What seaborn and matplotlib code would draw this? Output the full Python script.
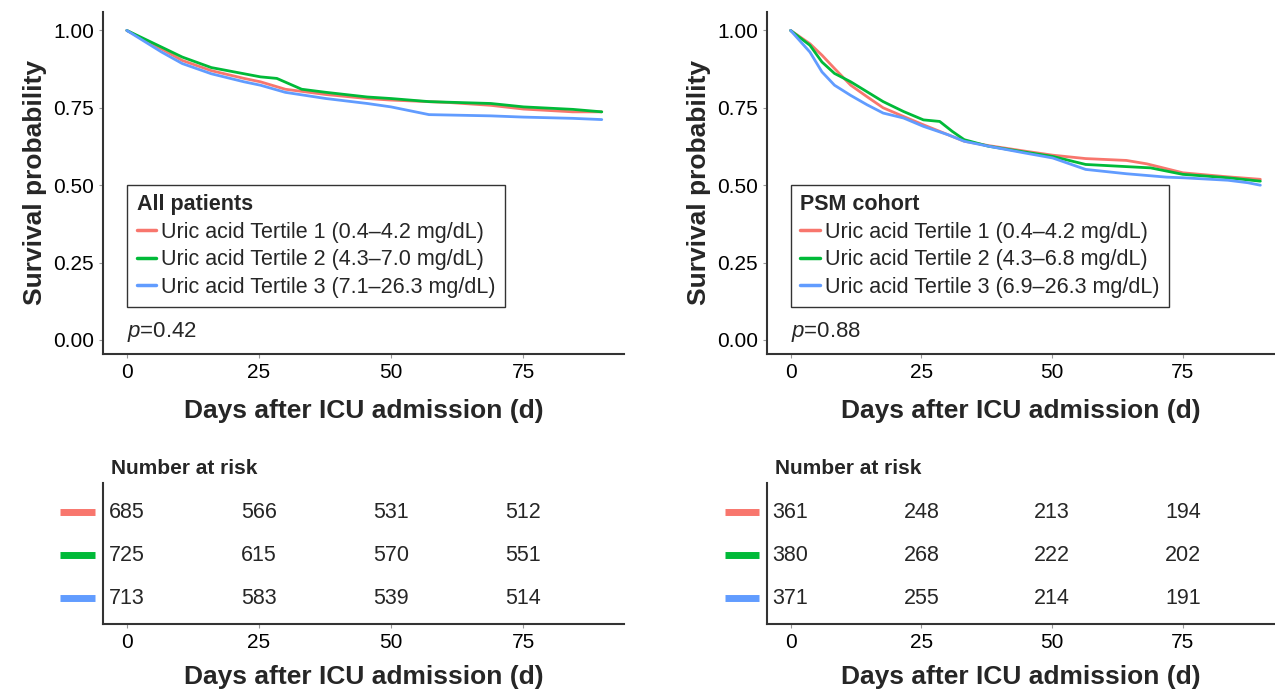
"""Kaplan-Meier survival curves by uric acid tertile, with number-at-risk tables."""

import matplotlib

matplotlib.use("Agg")
import matplotlib.pyplot as plt
import matplotlib.transforms as mtransforms
from matplotlib.lines import Line2D
import pandas as pd
import seaborn as sns

# --- data --------------------------------------------------------------------
GROUPS = ["T1", "T2", "T3"]
COLORS = ["#F8766D", "#00BA38", "#619CFF"]

# all patients
ALL_T1_DAYS = [0, 6.6, 10.5, 16.0, 22.2, 25.3, 30.0, 37.7, 45.5, 50.0, 61.1, 68.9, 75.1, 84.4, 89.9]
ALL_T1_SURV = [1.0, 0.94, 0.903, 0.87, 0.845, 0.834, 0.81, 0.793, 0.78, 0.775, 0.767, 0.758, 0.746, 0.737, 0.737]
ALL_T2_DAYS = [0, 6.6, 10.5, 16.0, 22.2, 25.3, 28.4, 33.1, 37.7, 45.5, 50.0, 57.2, 68.9, 75.1, 84.4, 89.9]
ALL_T2_SURV = [1.0, 0.946, 0.914, 0.88, 0.86, 0.85, 0.845, 0.81, 0.80, 0.785, 0.78, 0.77, 0.764, 0.753, 0.745, 0.737]
ALL_T3_DAYS = [0, 6.6, 10.5, 16.0, 22.2, 25.3, 30.0, 37.7, 45.5, 50.0, 57.2, 68.9, 75.1, 84.4, 89.9]
ALL_T3_SURV = [1.0, 0.93, 0.893, 0.86, 0.834, 0.823, 0.80, 0.78, 0.764, 0.753, 0.728, 0.724, 0.72, 0.716, 0.712]

# PSM cohort
PSM_T1_DAYS = [0, 3.7, 6.0, 8.4, 11.5, 14.6, 17.7, 21.6, 25.4, 30.1, 33.2, 37.8, 44.8, 50.1, 56.4, 64.2, 68.1, 75.0, 83.6, 89.8]
PSM_T1_SURV = [1.0, 0.957, 0.92, 0.877, 0.823, 0.786, 0.75, 0.722, 0.695, 0.663, 0.642, 0.628, 0.61, 0.597, 0.586, 0.58, 0.569, 0.54, 0.527, 0.519]
PSM_T2_DAYS = [0, 3.7, 6.0, 8.4, 11.5, 14.6, 17.7, 21.6, 25.4, 28.5, 30.9, 33.2, 37.8, 44.8, 50.1, 56.4, 64.2, 68.8, 75.0, 83.6, 89.8]
PSM_T2_SURV = [1.0, 0.952, 0.898, 0.861, 0.834, 0.802, 0.77, 0.738, 0.711, 0.706, 0.674, 0.647, 0.626, 0.607, 0.593, 0.567, 0.56, 0.556, 0.535, 0.524, 0.513]
PSM_T3_DAYS = [0, 3.7, 6.0, 8.4, 11.5, 14.6, 17.7, 21.6, 25.4, 30.1, 33.2, 37.8, 44.8, 50.1, 56.4, 64.2, 71.9, 75.0, 83.6, 87.4, 89.8]
PSM_T3_SURV = [1.0, 0.93, 0.866, 0.823, 0.79, 0.76, 0.733, 0.717, 0.69, 0.663, 0.642, 0.626, 0.604, 0.588, 0.551, 0.537, 0.526, 0.524, 0.516, 0.508, 0.50]

RISK_DAYS = [0, 25, 50, 75]
ALL_RISK = [[685, 566, 531, 512], [725, 615, 570, 551], [713, 583, 539, 514]]
PSM_RISK = [[361, 248, 213, 194], [380, 268, 222, 202], [371, 255, 214, 191]]

ALL_LABELS = [
    "Uric acid Tertile 1 (0.4–4.2 mg/dL)",
    "Uric acid Tertile 2 (4.3–7.0 mg/dL)",
    "Uric acid Tertile 3 (7.1–26.3 mg/dL)",
]
PSM_LABELS = [
    "Uric acid Tertile 1 (0.4–4.2 mg/dL)",
    "Uric acid Tertile 2 (4.3–6.8 mg/dL)",
    "Uric acid Tertile 3 (6.9–26.3 mg/dL)",
]

XLABEL = "Days after ICU admission (d)"


def uzun_tablo(gunler, olasiliklar):
    parcalar = []
    for grup, gun, surv in zip(GROUPS, gunler, olasiliklar):
        parcalar.append(pd.DataFrame({"day": gun, "surv": surv, "group": grup}))
    return pd.concat(parcalar, ignore_index=True)


def km_ciz(ax, df, etiketler, baslik, p_metin, xmax):
    sns.lineplot(
        data=df, x="day", y="surv", hue="group", palette=COLORS,
        estimator=None, sort=False, linewidth=2.0, ax=ax, legend=False,
    )
    ax.set_xlim(-4.5, xmax)
    ax.set_ylim(-0.045, 1.06)
    ax.set_xticks(RISK_DAYS)
    ax.set_yticks([0, 0.25, 0.5, 0.75, 1.0])
    ax.set_yticklabels(["0.00", "0.25", "0.50", "0.75", "1.00"])
    ax.set_xlabel(XLABEL, fontsize=19, fontweight="bold", labelpad=12)
    ax.set_ylabel("Survival probability", fontsize=19, fontweight="bold", labelpad=4)
    tutamaclar = [Line2D([0], [0], color=c, lw=2.5) for c in COLORS]
    leg = ax.legend(
        tutamaclar, etiketler, title=baslik, loc="upper left",
        bbox_to_anchor=(0.025, 0.526), fontsize=15.5, title_fontsize=15.5,
        handlelength=0.9, handletextpad=0.25, labelspacing=0.3,
        frameon=True, fancybox=False, borderpad=0.45,
    )
    leg._legend_box.align = "left"
    leg.get_title().set_fontweight("bold")
    leg.get_frame().set_edgecolor("black")
    leg.get_frame().set_linewidth(1.0)
    ax.text(0, 0.025, p_metin, fontsize=16, ha="left", va="center")


def risk_ciz(ax, sayilar, xmax):
    ax.set_xlim(-4.5, xmax)
    ax.set_ylim(0.4, 3.68)
    ax.set_yticks([])
    ax.set_xticks(RISK_DAYS)
    ax.set_xlabel(XLABEL, fontsize=19, fontweight="bold", labelpad=9)
    donusum = mtransforms.blended_transform_factory(ax.transAxes, ax.transData)
    for satir, (renk, degerler) in enumerate(zip(COLORS, sayilar)):
        y = 3 - satir
        for gun, deger in zip(RISK_DAYS, degerler):
            ax.text(gun, y, str(deger), ha="center", va="center", fontsize=15.5)
        ax.plot([-0.083, -0.016], [y, y], color=renk, lw=5, transform=donusum,
                clip_on=False, solid_capstyle="butt")
    ax.text(0.016, 1.1, "Number at risk", transform=ax.transAxes,
            fontsize=15, fontweight="bold", ha="left", va="center")


def main() -> None:
    sns.set_style("ticks")
    plt.rcParams["font.family"] = ["Liberation Sans", "DejaVu Sans"]
    plt.rcParams["mathtext.fontset"] = "custom"
    plt.rcParams["mathtext.rm"] = "Liberation Sans"
    plt.rcParams["mathtext.it"] = "Liberation Sans:italic"
    plt.rcParams["axes.edgecolor"] = "#333333"
    plt.rcParams["axes.linewidth"] = 1.5
    plt.rcParams["xtick.color"] = "#999999"
    plt.rcParams["ytick.color"] = "#999999"
    plt.rcParams["xtick.labelcolor"] = "black"
    plt.rcParams["ytick.labelcolor"] = "black"
    plt.rcParams["xtick.labelsize"] = 15
    plt.rcParams["ytick.labelsize"] = 15
    plt.rcParams["xtick.major.size"] = 3
    plt.rcParams["ytick.major.size"] = 3

    fig = plt.figure(figsize=(12.75, 6.98), dpi=100)
    ax_all = fig.add_axes([0.0808, 0.493, 0.409, 0.490])
    ax_psm = fig.add_axes([0.6016, 0.493, 0.3984, 0.490])
    risk_all = fig.add_axes([0.0808, 0.106, 0.409, 0.202])
    risk_psm = fig.add_axes([0.6016, 0.106, 0.3984, 0.202])

    df_all = uzun_tablo(
        [ALL_T1_DAYS, ALL_T2_DAYS, ALL_T3_DAYS],
        [ALL_T1_SURV, ALL_T2_SURV, ALL_T3_SURV],
    )
    df_psm = uzun_tablo(
        [PSM_T1_DAYS, PSM_T2_DAYS, PSM_T3_DAYS],
        [PSM_T1_SURV, PSM_T2_SURV, PSM_T3_SURV],
    )

    km_ciz(ax_all, df_all, ALL_LABELS, "All patients", "$p$=0.42", 94.2)
    km_ciz(ax_psm, df_psm, PSM_LABELS, "PSM cohort", "$p$=0.88", 92.6)
    risk_ciz(risk_all, ALL_RISK, 94.2)
    risk_ciz(risk_psm, PSM_RISK, 92.6)

    for ax in (ax_all, ax_psm, risk_all, risk_psm):
        sns.despine(ax=ax)

    fig.savefig("out.png", dpi=100)
    plt.close(fig)


if __name__ == "__main__":
    main()
